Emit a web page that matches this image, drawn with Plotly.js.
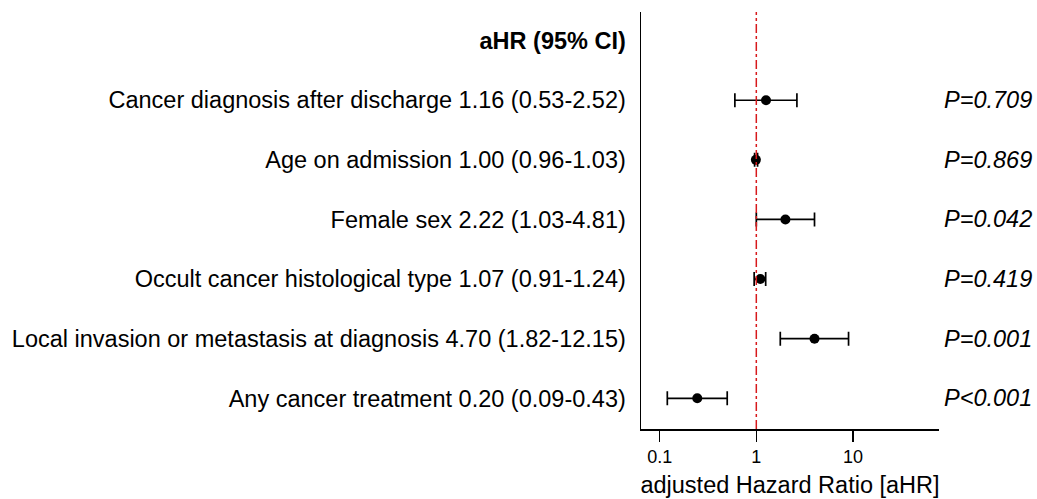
<!DOCTYPE html>
<html>
<head>
<meta charset="utf-8">
<script src="https://cdn.plot.ly/plotly-3.0.1.min.js"></script>
<style>html,body{margin:0;padding:0;background:#fff;}#chart{width:1037px;height:499px;}</style>
</head>
<body>
<div id="chart"></div>
<script>
// Row labels (top to bottom)
const labels = [
  "Cancer diagnosis after discharge 1.16 (0.53-2.52)",
  "Age on admission 1.00 (0.96-1.03)",
  "Female sex 2.22 (1.03-4.81)",
  "Occult cancer histological type 1.07 (0.91-1.24)",
  "Local invasion or metastasis at diagnosis 4.70 (1.82-12.15)",
  "Any cancer treatment 0.20 (0.09-0.43)"
];
const header = "aHR (95% CI)";
// Plotted point estimates and intervals as drawn in the picture
const hr = [1.26, 0.99, 2.0, 1.10, 4.0, 0.245];
const lo = [0.60, 0.96, 1.0, 0.95, 1.77, 0.12];
const hi = [2.63, 1.03, 4.0, 1.25, 9.0, 0.50];
const pvals = ["P=0.709", "P=0.869", "P=0.042", "P=0.419", "P=0.001", "P<0.001"];
const xTicks = [0.1, 1, 10];
const xTickText = ["0.1", "1", "10"];

const n = labels.length;
const ypos = labels.map((_, i) => n - 1 - i);
const font = "Helvetica, Arial, 'Liberation Sans', sans-serif";

const trace = {
  type: "scatter",
  mode: "markers",
  x: hr,
  y: ypos,
  marker: {color: "#000", size: 10, symbol: "circle"},
  error_x: {
    type: "data",
    symmetric: false,
    array: hr.map((v, i) => hi[i] - v),
    arrayminus: hr.map((v, i) => v - lo[i]),
    color: "#000",
    thickness: 1.7,
    width: 7
  },
  hoverinfo: "skip",
  showlegend: false
};

const annotations = pvals.map((p, i) => ({
  xref: "paper", yref: "y",
  x: 1.318, y: ypos[i],
  xanchor: "right", yanchor: "middle",
  text: "<i>" + p + "</i>",
  showarrow: false,
  font: {family: font, size: 23.5, color: "#000"}
}));

const layout = {
  width: 1037, height: 499,
  margin: {l: 641, r: 98, t: 12, b: 70},
  paper_bgcolor: "#fff", plot_bgcolor: "#fff",
  font: {family: font, color: "#000"},
  showlegend: false,
  xaxis: {
    type: "log",
    range: [-1.193, 1.890],
    tickvals: xTicks,
    ticktext: xTickText,
    ticks: "outside", ticklen: 11, tickwidth: 1.5, tickcolor: "#000",
    showline: true, linecolor: "#000", linewidth: 1.5,
    showgrid: false, zeroline: false,
    tickfont: {family: font, size: 18, color: "#000"},
    title: {text: "adjusted Hazard Ratio [aHR]", font: {family: font, size: 23.5, color: "#000"}, standoff: 10},
    fixedrange: true
  },
  yaxis: {
    range: [-0.515, 6.48],
    tickvals: ypos.concat([n]),
    ticktext: labels.concat(["<b>" + header + "</b>"]),
    ticks: "", showline: true, linecolor: "#000", linewidth: 1.5,
    showgrid: false, zeroline: false,
    tickfont: {family: font, size: 23.5, color: "#000"},
    ticklabelstandoff: 9,
    fixedrange: true
  },
  shapes: [{
    type: "line", xref: "x", yref: "paper",
    x0: 1, x1: 1, y0: 0, y1: 1,
    line: {color: "#d7191c", width: 1.5, dash: "dashdot"}
  }],
  annotations: annotations
};

Plotly.newPlot("chart", [trace], layout, {displayModeBar: false, staticPlot: true});
</script>
</body>
</html>
